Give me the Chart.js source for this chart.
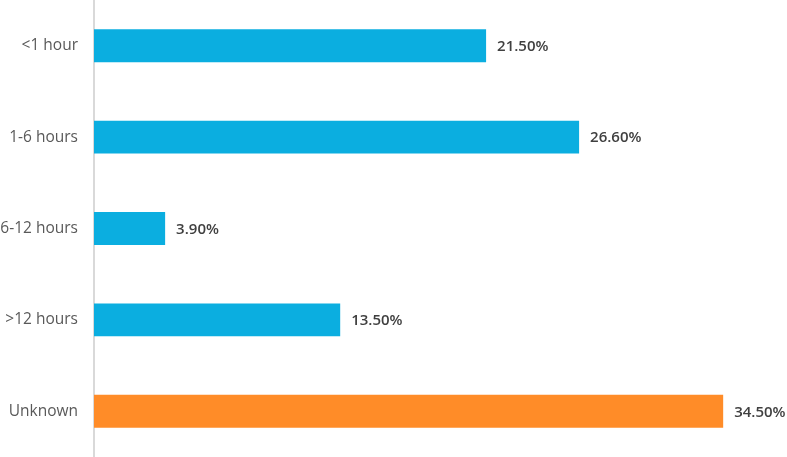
<!DOCTYPE html>
<html>
<head>
<meta charset="utf-8">
<script src="https://cdn.jsdelivr.net/npm/chart.js@4/dist/chart.umd.min.js"></script>
<style>
html,body{margin:0;padding:0;background:#fff;}
#wrap{width:787px;height:457px;position:relative;}
</style>
</head>
<body>
<div id="wrap"><canvas id="c"></canvas></div>
<script>
const categories = ["<1 hour", "1-6 hours", "6-12 hours", ">12 hours", "Unknown"];
const values = [21.5, 26.6, 3.9, 13.5, 34.5];
const barColors = ["#0BAEE0", "#0BAEE0", "#0BAEE0", "#0BAEE0", "#FF8C28"];

const valueLabels = {
  id: 'valueLabels',
  afterDatasetsDraw(chart) {
    const ctx = chart.ctx;
    const meta = chart.getDatasetMeta(0);
    ctx.save();
    ctx.font = '600 15px "Open Sans"';
    ctx.fillStyle = '#404040';
    ctx.textAlign = 'left';
    ctx.textBaseline = 'middle';
    meta.data.forEach((bar, i) => {
      ctx.fillText(values[i].toFixed(2) + '%', bar.x + 11, bar.y + 1);
    });
    ctx.restore();
  }
};

new Chart(document.getElementById('c'), {
  type: 'bar',
  data: {
    labels: categories,
    datasets: [{
      data: values,
      backgroundColor: barColors,
      borderWidth: 0,
      barPercentage: 0.36,
      categoryPercentage: 1
    }]
  },
  options: {
    indexAxis: 'y',
    responsive: true,
    maintainAspectRatio: false,
    animation: false,
    layout: { padding: 0 },
    plugins: { legend: { display: false }, tooltip: { enabled: false } },
    scales: {
      x: { display: false, min: 0, max: 38 },
      y: {
        grid: { display: false, drawTicks: false },
        border: { display: true, color: '#d9d9d9', width: 2 },
        ticks: { color: '#595959', font: { family: 'Open Sans', size: 15.5 }, padding: 16 },
        afterFit(scale) { scale.width = 94; scale.paddingTop = 0; scale.paddingBottom = 0; }
      }
    }
  },
  plugins: [valueLabels]
});
</script>
</body>
</html>
